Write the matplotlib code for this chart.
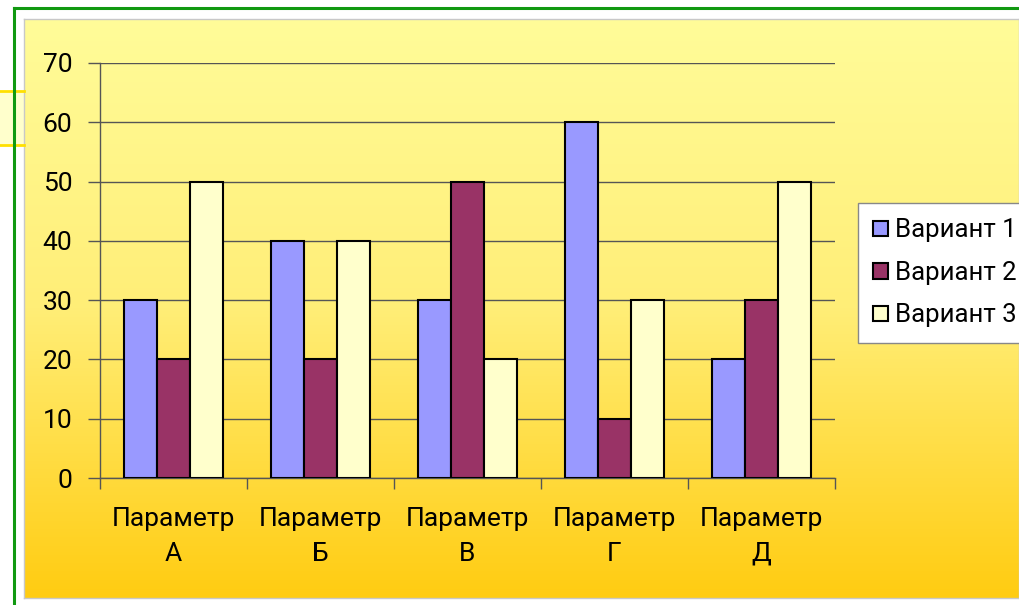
import numpy as np
import matplotlib.pyplot as plt
from matplotlib.colors import LinearSegmentedColormap
from matplotlib.patches import Rectangle
from matplotlib.lines import Line2D

plt.rcParams['font.family'] = ['Roboto', 'DejaVu Sans']

categories = ['Параметр\nА', 'Параметр\nБ', 'Параметр\nВ', 'Параметр\nГ', 'Параметр\nД']
series_names = ['Вариант 1', 'Вариант 2', 'Вариант 3']
variant1 = [30, 40, 30, 60, 20]
variant2 = [20, 20, 50, 10, 30]
variant3 = [50, 40, 20, 30, 50]
colors = ['#9999FF', '#993366', '#FFFFCC']

W, H = 1019, 605
fig = plt.figure(figsize=(W / 100, H / 100), dpi=100)
fig.patch.set_facecolor('white')

def fx(px):
    return px / W

def fy(py):
    return 1 - py / H

# yellow gradient panel behind the chart
bg = fig.add_axes([fx(24), fy(598), fx(1019 - 24), (598 - 19) / H])
grad = LinearSegmentedColormap.from_list('bg', ['#FFFC99', '#FFEE77', '#FFCC11'])
bg.imshow(np.linspace(0, 1, 256).reshape(-1, 1), aspect='auto', cmap=grad,
          extent=(0, 1, 0, 1))
bg.set_xticks([])
bg.set_yticks([])
for s in bg.spines.values():
    s.set_color('#C8C8C8')
    s.set_linewidth(1)

# slide frame lines
fig.add_artist(Rectangle((0, fy(145)), fx(24), (145 - 91) / H, transform=fig.transFigure,
                         facecolor='#FFFFCC', edgecolor='none', zorder=0))
fig.add_artist(Line2D([0, fx(24)], [fy(91), fy(91)], transform=fig.transFigure,
                      color='#FFE000', lw=2))
fig.add_artist(Line2D([0, fx(24)], [fy(145), fy(145)], transform=fig.transFigure,
                      color='#FFE000', lw=2))
fig.add_artist(Line2D([fx(14), 1], [fy(8), fy(8)], transform=fig.transFigure,
                      color='#119911', lw=2.2))
fig.add_artist(Line2D([fx(14), fx(14)], [fy(8), 0], transform=fig.transFigure,
                      color='#119911', lw=2.2))

ax = fig.add_axes([fx(100), fy(478), fx(835 - 100), (478 - 63) / H])
ax.set_facecolor('none')

x = np.arange(len(categories))
w = 0.225
for i, (vals, name) in enumerate(zip([variant1, variant2, variant3], series_names)):
    ax.bar(x + (i - 1) * w, vals, w, color=colors[i], edgecolor='black',
           linewidth=1.5, label=name, zorder=3)

ax.set_xlim(-0.5, 4.5)
ax.set_ylim(0, 70)
ax.set_yticks(range(0, 71, 10))
ax.yaxis.grid(True, color='#555555', linewidth=1, zorder=0)
ax.set_axisbelow(True)

ax.set_xticks(x)
ax.set_xticklabels(categories, fontsize=19, linespacing=1.55)
ax.tick_params(axis='x', length=0, pad=21)
ax.set_xticks(np.arange(-0.5, 5, 1), minor=True)
ax.tick_params(axis='x', which='minor', length=8, width=1, color='#555555')
ax.tick_params(axis='y', labelsize=19, length=9, width=1, color='#555555', pad=11)

for s in ['top', 'right']:
    ax.spines[s].set_visible(False)
for s in ['left', 'bottom']:
    ax.spines[s].set_color('#555555')
    ax.spines[s].set_linewidth(1)

leg = fig.legend(loc='upper left', bbox_to_anchor=(fx(858), fy(203)), fontsize=18.5,
                 frameon=True, fancybox=False, handlelength=0.55, handleheight=0.55,
                 handletextpad=0.28, labelspacing=0.72, borderpad=0.6, borderaxespad=0)
leg.get_frame().set_edgecolor('#888888')
leg.get_frame().set_linewidth(1)
leg.get_frame().set_facecolor('white')
leg.get_frame().set_alpha(1)

fig.savefig('out.png', dpi=100)
